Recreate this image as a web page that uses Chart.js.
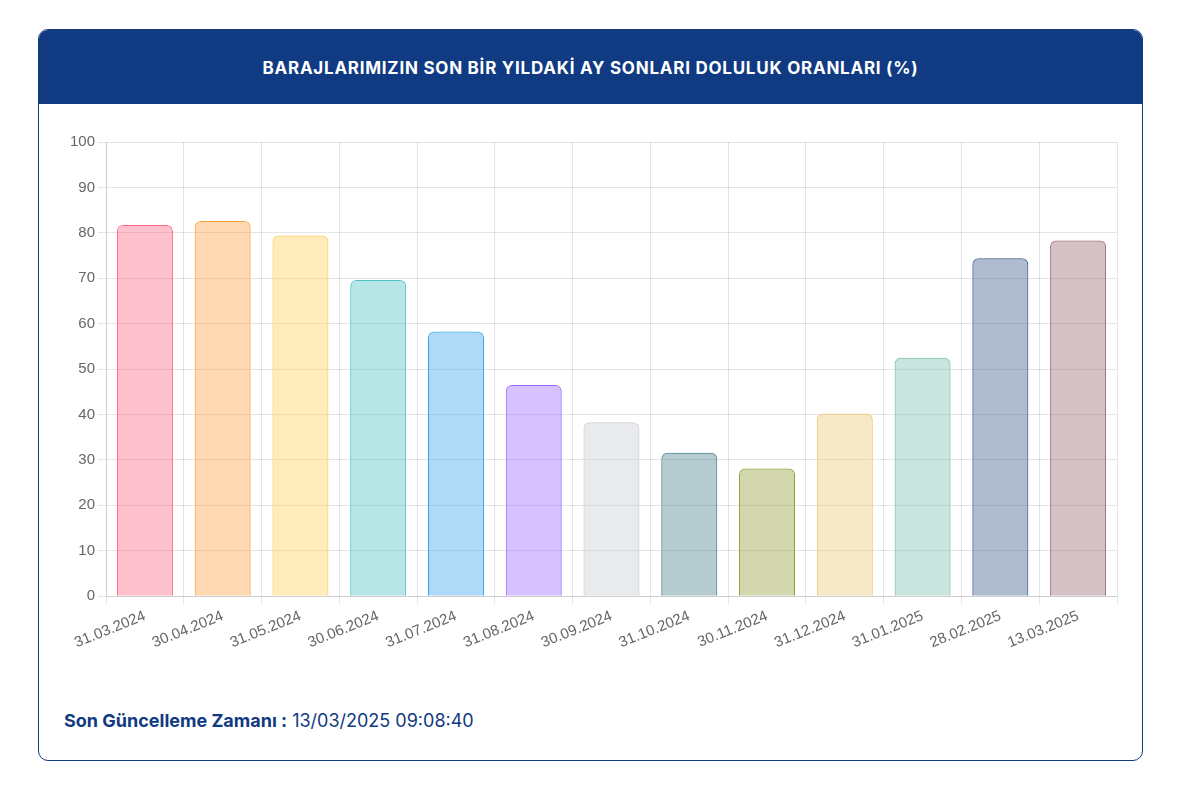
<!DOCTYPE html>
<html>
<head>
<meta charset="utf-8">
<script src="https://cdn.jsdelivr.net/npm/chart.js@4"></script>
<style>
  html, body { margin: 0; padding: 0; background: #fff; }
  body { width: 1182px; height: 790px; position: relative; font-family: Inter, "Open Sans", sans-serif; }
  .card { position: absolute; left: 38px; top: 29px; width: 1105px; height: 732px; border: 1px solid #103a82; border-radius: 10px; overflow: hidden; box-sizing: border-box; }
  .head { position: absolute; left: 0; top: 0; right: 0; height: 74px; background: #103a82; color: #fff; font-weight: 700; font-size: 17px; letter-spacing: 0.75px; text-align: center; line-height: 76px; }
  .chartbox { position: absolute; left: 20px; top: 100px; width: 1072px; height: 530px; }
  .foot { position: absolute; left: 25px; top: 680px; font-size: 18px; color: #103a82; }
  .foot b { font-weight: 700; }
</style>
</head>
<body>
<div class="card">
  <div class="head">BARAJLARIMIZIN SON BİR YILDAKİ AY SONLARI DOLULUK ORANLARI (%)</div>
  <div class="chartbox"><canvas id="c"></canvas></div>
  <div class="foot"><b>Son Güncelleme Zamanı :</b> 13/03/2025 09:08:40</div>
</div>
<script>
const categories = ["31.03.2024","30.04.2024","31.05.2024","30.06.2024","31.07.2024","31.08.2024","30.09.2024","31.10.2024","30.11.2024","31.12.2024","31.01.2025","28.02.2025","13.03.2025"];
const fillRates = [81.7, 82.6, 79.4, 69.6, 58.3, 46.5, 38.3, 31.6, 28.1, 40.2, 52.5, 74.4, 78.3];
const barColors = ["255,99,132","255,159,64","255,205,86","75,192,192","54,162,235","153,102,255","201,203,207","70,128,138","143,155,50","235,200,115","120,190,170","55,88,135","152,100,112"];
const yTicks = [0,10,20,30,40,50,60,70,80,90,100];

Chart.defaults.font.family = "'Liberation Sans', Arial, sans-serif";

new Chart(document.getElementById('c'), {
  type: 'bar',
  data: {
    labels: categories,
    datasets: [{
      data: fillRates,
      backgroundColor: barColors.map(c => `rgba(${c},0.4)`),
      borderColor: barColors.map(c => `rgb(${c})`),
      borderWidth: 1,
      borderRadius: 6,
      borderSkipped: 'bottom',
      categoryPercentage: 0.8,
      barPercentage: 0.9
    }]
  },
  options: {
    responsive: true,
    maintainAspectRatio: false,
    animation: false,
    plugins: { legend: { display: false }, tooltip: { enabled: false } },
    layout: { padding: { left: 8, right: 14, top: 9, bottom: 5 } },
    scales: {
      x: {
        ticks: { color: '#666', font: { size: 15 }, minRotation: 22, maxRotation: 22, autoSkip: false },
        grid: { color: 'rgba(0,0,0,0.1)' }
      },
      y: {
        min: 0, max: 100,
        afterBuildTicks: (ax) => { ax.ticks = yTicks.map(v => ({ value: v })); },
        ticks: { color: '#666', font: { size: 15 } },
        grid: { color: 'rgba(0,0,0,0.1)' }
      }
    }
  }
});
</script>
</body>
</html>
